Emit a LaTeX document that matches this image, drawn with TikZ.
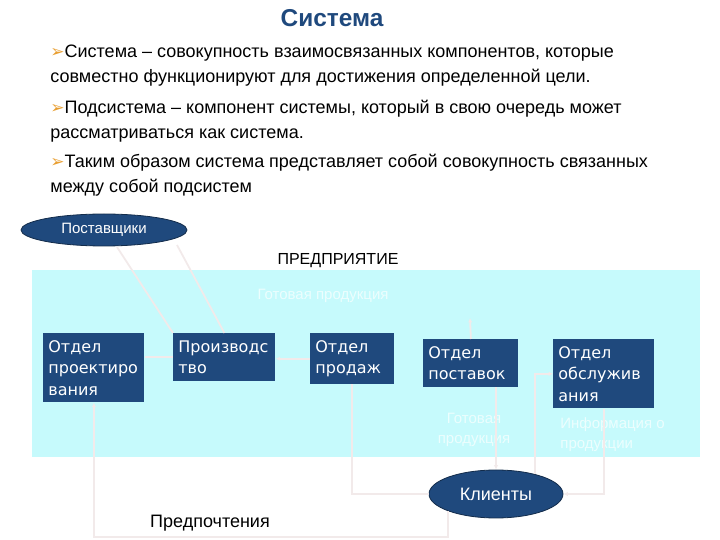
\documentclass[tikz,border=0pt]{standalone}
\usepackage{fontspec}
\setmainfont{Liberation Sans}
\newfontfamily\boxfont{DejaVu Sans}
\usetikzlibrary{arrows.meta,positioning,shapes.geometric}
\definecolor{deptblue}{RGB}{31,73,125}
\definecolor{panelcyan}{RGB}{198,250,252}
\definecolor{faintline}{RGB}{242,234,234}
\definecolor{ghosttext}{RGB}{236,254,254}
\definecolor{bulletor}{RGB}{232,158,48}
\newcommand{\bul}{{\color{bulletor}\boxfont\fontsize{8.5}{9}\selectfont ➢}}

\begin{document}
\begin{tikzpicture}[x=0.5pt,y=-0.5pt,>=Latex,
  bullet/.style={anchor=north west,align=left,inner sep=0pt,font=\fontsize{9}{12.5}\selectfont},
  dept/.style={anchor=north west,fill=deptblue,text=white,align=left,inner xsep=2.5pt,inner ysep=3.5pt,font=\boxfont\fontsize{8}{10.7}\selectfont},
  oval/.style={ellipse,draw=deptblue!60!black,fill=deptblue,text=white,inner sep=0pt},
  ghost/.style={text=ghosttext,font=\fontsize{7.5}{10}\selectfont,inner sep=1pt},
  link/.style={draw=faintline,line width=0.9pt,-{Latex[length=2.2pt,width=2.2pt]}}]
\useasboundingbox (0,0) rectangle (720,540);
\node[anchor=base,font=\fontsize{12.2}{14}\selectfont\bfseries,text=deptblue] (title) at (332,27) {Система};
\node[bullet] (b1) at (50,45) {\bul Система -- совокупность взаимосвязанных компонентов, которые\\совместно функционируют для достижения определенной цели.};
\node[bullet] (b2) at (50,100) {\bul Подсистема -- компонент системы, который в свою очередь может\\рассматриваться как система.};
\node[bullet] (b3) at (50,154) {\bul Таким образом система представляет собой совокупность связанных\\между собой подсистем};
% enterprise panel
\fill[panelcyan] (32,270) rectangle (700,457);
\node[font=\fontsize{8}{10}\selectfont] (firm) at (338,261) {ПРЕДПРИЯТИЕ};
\node[oval,minimum width=83pt,minimum height=16pt,font=\fontsize{7.5}{9}\selectfont] (supp) at (104,230) {Поставщики};
\node[dept,text width=45.5pt] (design) at (43,333) {Отдел\\проектиро\\вания};
\node[dept,text width=46pt] (prod) at (173,333) {Производс\\тво};
\node[dept,text width=37pt] (sales) at (310,333) {Отдел\\продаж};
\node[dept,text width=42.5pt] (supply) at (423,339) {Отдел\\поставок};
\node[dept,text width=45.5pt] (service) at (553,339) {Отдел\\обслужив\\ания};
\node[oval,minimum width=67pt,minimum height=24pt,font=\fontsize{9}{11}\selectfont] (clients) at (496,494) {Клиенты};
\node[ghost] (goods1) at (323,296) {Готовая продукция};
\node[ghost,align=center] (goods2) at (474,430) {Готовая\\продукция};
\node[ghost,align=left,anchor=west] (info) at (558,435) {Информация о\\продукции};
\node[font=\fontsize{9}{11}\selectfont] (pref) at (210,523) {Предпочтения};
\coordinate (stub) at (470,318);
% faint flows
\draw[link,-] ([shift={(13,17)}]supp.center) -- (prod.north west);
\draw[link,-] ([shift={(73,15)}]supp.center) -- (prod.north);
\draw[link,-] (prod.west) -- (prod.west -| design.east);
\draw[link] (sales.west) -- (sales.west -| prod.east);
\draw[link,-] (sales.south) |- (clients.west);
\draw[link] (supply.south -| clients.north) -- (clients.north);
\draw[link] (supply.north) -- (stub);
\draw[link] ([shift={(39,-20)}]clients.center) |- (service.west);
\draw[link] (service.south) |- (clients.east);
\draw[link] ([shift={(-48,17)}]clients.center) -- ++(0,26) -| (design.south);
\end{tikzpicture}
\end{document}
